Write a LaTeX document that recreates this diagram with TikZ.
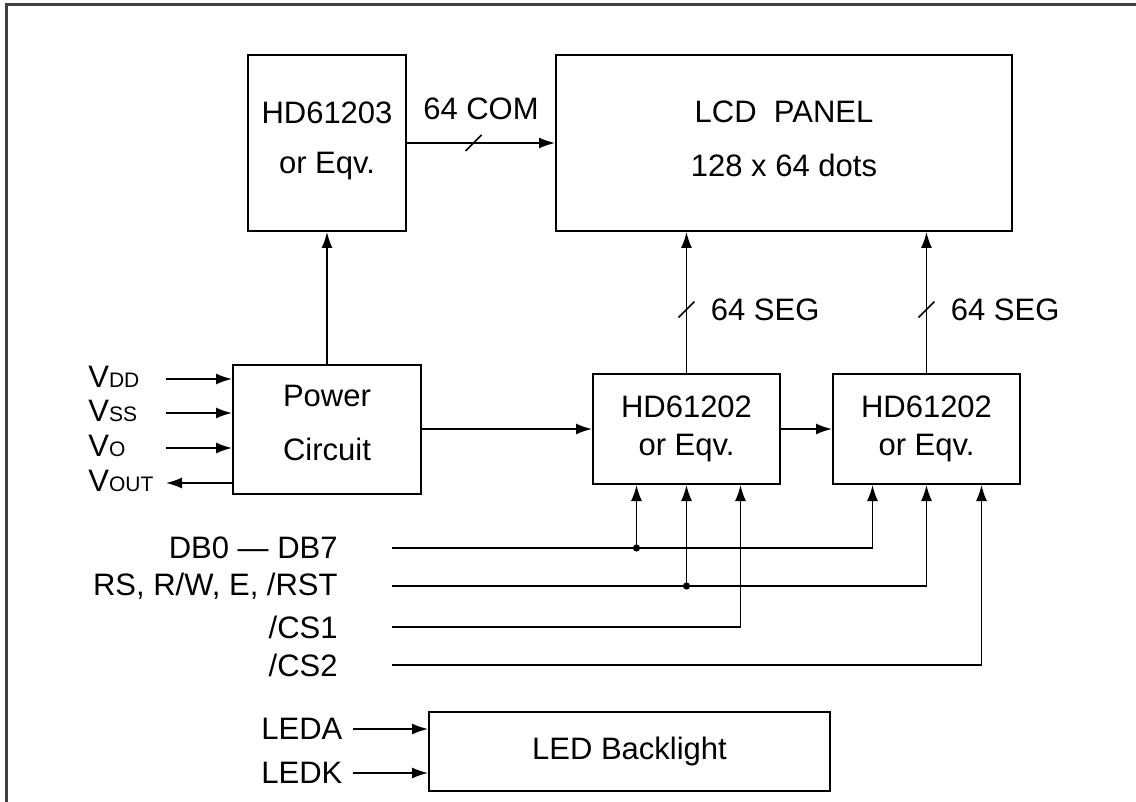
\documentclass[tikz,border=0pt]{standalone}
\usepackage{fontspec}
\setmainfont{Liberation Sans}
\usetikzlibrary{arrows.meta,calc}
\newcommand\vsub[1]{{\fontsize{10.5}{11}\selectfont #1}}

\begin{document}
\begin{tikzpicture}[x=0.5pt, y=-0.5pt, font=\fontsize{15.5}{19}\selectfont]
    \tikzset{ blk/.style={draw, line width=1pt, align=center, inner sep=0pt},
              lbl/.style={inner sep=0pt},
              sig/.style={line width=0.8pt, -{Latex[length=8pt,width=5.5pt]}},
              wire/.style={line width=0.8pt},
              frame/.style={line width=1.5pt, black!75} }
    \useasboundingbox (0,0) rectangle (1136,802);
    \draw[frame] (6,802) -- (6,5) -- (1136,5);

    \node[blk, minimum width=79pt, minimum height=88pt] (drv203) at (327,143) {HD61203\\[6pt]or Eqv.\\[-14pt]\mbox{}};
    \node[blk, minimum width=228pt, minimum height=88pt] (lcd) at (784,143) {LCD\ \ PANEL\\[8pt]128 x 64 dots\\[-15pt]\mbox{}};
    \node[blk, minimum width=94pt, minimum height=64.5pt] (pwr) at (327,429.5) {Power\\[8pt]Circuit\\[-12pt]\mbox{}};
    \node[blk, minimum width=93.5pt, minimum height=55pt] (hd1) at (686.5,429) {HD61202\\or Eqv.};
    \node[blk, minimum width=93.5pt, minimum height=55pt] (hd2) at (926.5,429) {HD61202\\or Eqv.};
    \node[blk, minimum width=200.5pt, minimum height=39.5pt] (led) at (629.5,751.5) {LED Backlight};

    \draw[sig] (drv203.east) -- coordinate[pos=0.45] (comsl) node[lbl, midway, above=11pt] {64 COM} (lcd.west);
    \draw[wire] ($(comsl)+(-8,8)$) -- ($(comsl)+(8,-8)$);
    \draw[sig] (pwr.north) -- (drv203.south);
    \draw[sig] (pwr.east |- hd1.west) -- (hd1.west);
    \draw[sig] (hd1.east) -- (hd2.west);

    \draw[sig] (hd1.north) -- coordinate[pos=0.45] (seg1) (hd1.north |- lcd.south);
    \draw[wire] ($(seg1)+(-8,8)$) -- ($(seg1)+(8,-8)$);
    \node[lbl, anchor=west] (seg1lbl) at ([xshift=12pt]seg1) {64 SEG};
    \draw[sig] (hd2.north) -- coordinate[pos=0.45] (seg2) (hd2.north |- lcd.south);
    \draw[wire] ($(seg2)+(-8,8)$) -- ($(seg2)+(8,-8)$);
    \node[lbl, anchor=west] (seg2lbl) at ([xshift=12pt]seg2) {64 SEG};

    \node[lbl, anchor=west] (vdd) at (88,377) {V\vsub{DD}};
    \node[lbl, anchor=west] (vss) at (88,411) {V\vsub{SS}};
    \node[lbl, anchor=west] (vo) at (88,446) {V\vsub{O}};
    \node[lbl, anchor=west] (vout) at (88,481) {V\vsub{OUT}};
    \coordinate (vddin) at (166,379);
    \coordinate (vssin) at (166,413);
    \coordinate (voin) at (166,448);
    \coordinate (voutend) at (166,483);
    \draw[sig] (vddin) -- (vddin -| pwr.west);
    \draw[sig] (vssin) -- (vssin -| pwr.west);
    \draw[sig] (voin) -- (voin -| pwr.west);
    \draw[sig] (voutend -| pwr.west) -- (voutend);

    \coordinate (h1a) at ([xshift=-25pt]hd1.south);
    \coordinate (h1b) at (hd1.south);
    \coordinate (h1c) at ([xshift=27pt]hd1.south);
    \coordinate (h2a) at ([xshift=-27pt]hd2.south);
    \coordinate (h2b) at (hd2.south);
    \coordinate (h2c) at ([xshift=27.5pt]hd2.south);

    \node[lbl, anchor=east] (db) at (338,548) {DB0 — DB7};
    \node[lbl, anchor=east] (rs) at (338,586) {RS, R/W, E, /RST};
    \node[lbl, anchor=east] (cs1) at (338,627) {/CS1};
    \node[lbl, anchor=east] (cs2) at (338,665) {/CS2};
    \coordinate (dbin) at (392,548);
    \coordinate (rsin) at (392,586);
    \coordinate (cs1in) at (392,627);
    \coordinate (cs2in) at (392,665);
    \draw[sig] (dbin) -| (h2a);
    \draw[sig] (dbin -| h1a) -- (h1a);
    \fill (dbin -| h1a) circle (1.8pt);
    \draw[sig] (rsin) -| (h2b);
    \draw[sig] (rsin -| h1b) -- (h1b);
    \fill (rsin -| h1b) circle (1.8pt);
    \draw[sig] (cs1in) -| (h1c);
    \draw[sig] (cs2in) -| (h2c);

    \node[lbl, anchor=west] (leda) at (261,729) {LEDA};
    \node[lbl, anchor=west] (ledk) at (261,773) {LEDK};
    \coordinate (ledain) at (353,729);
    \coordinate (ledkin) at (353,773);
    \draw[sig] (ledain) -- (ledain -| led.west);
    \draw[sig] (ledkin) -- (ledkin -| led.west);
\end{tikzpicture}
\end{document}
